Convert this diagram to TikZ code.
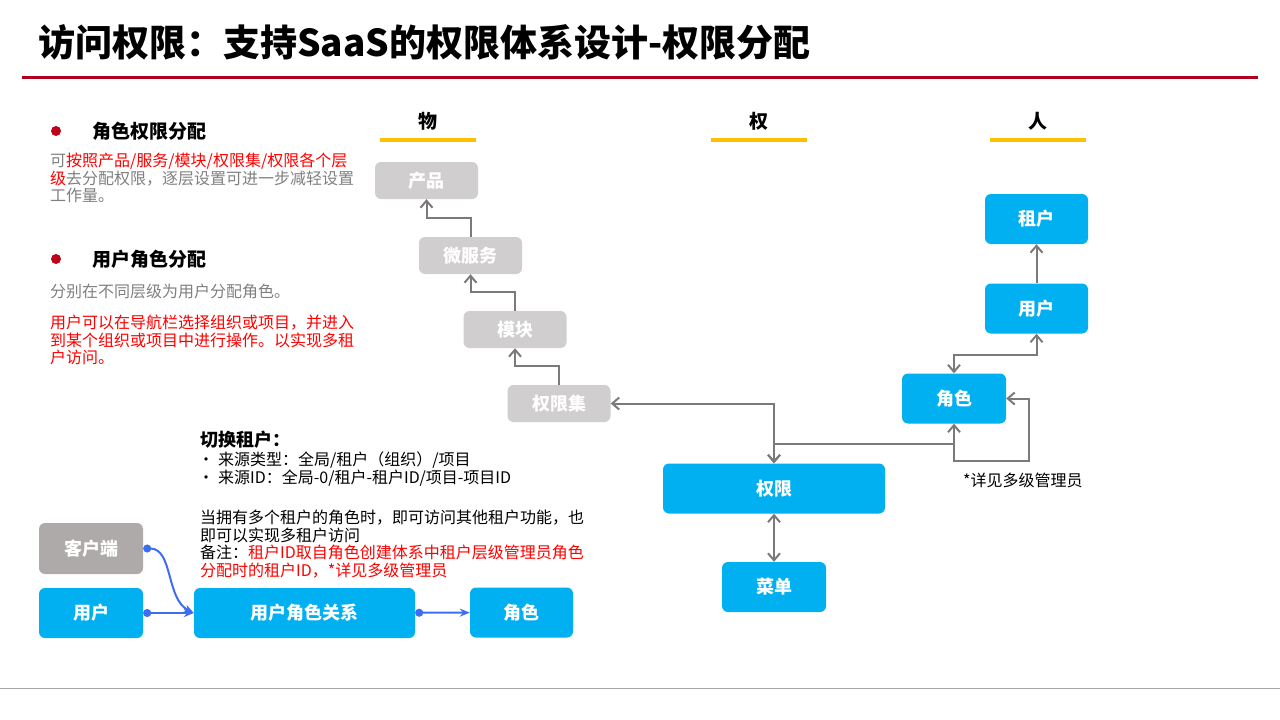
\documentclass[tikz,border=0pt]{standalone}
\usepackage{fontspec}
\setmainfont{Noto Sans CJK SC}
\usepackage{tikz}
\usetikzlibrary{arrows.meta}

\definecolor{skyblue}{HTML}{00B0F0}
\definecolor{boxgray}{HTML}{D0CECE}
\definecolor{clientgray}{HTML}{AEAAAA}
\definecolor{linkgray}{HTML}{7A7A7A}
\definecolor{flowblue}{HTML}{3D6DF2}
\definecolor{txtred}{HTML}{FF0000}
\definecolor{txtgray}{HTML}{7F7F7F}
\definecolor{titlered}{HTML}{B00020}
\definecolor{bulletred}{HTML}{C00018}
\definecolor{baryellow}{HTML}{FFC000}

\begin{document}
\begin{tikzpicture}[x=1pt, y=-1pt, >={Straight Barb[length=7pt, width=12pt]},
    block/.style={rectangle, rounded corners=6pt, inner sep=0pt, text=white, font=\fontsize{18}{18}\selectfont\bfseries},
    bluebox/.style={block, fill=skyblue, minimum height=50pt},
    graybox/.style={block, fill=boxgray, minimum height=37pt, minimum width=103pt},
    link/.style={draw=linkgray, line width=2pt},
    flow/.style={draw=flowblue, line width=2pt, {Circle[length=8pt]}-{Stealth[length=10pt, width=8pt]}},
    head/.style={inner sep=0pt, font=\fontsize{19}{19}\selectfont\bfseries},
    body/.style={align=left, inner sep=0pt, font=\fontsize{16}{17.5}\selectfont}]
    \useasboundingbox (0,0) rectangle (1280,720);

    % title
    \node[anchor=west, inner sep=0pt, font=\fontsize{37}{37}\selectfont\bfseries] (title) at (38,42) {访问权限：支持SaaS的权限体系设计-权限分配};
    \draw[titlered, line width=3pt] (22,77) -- (1258,77);
    \draw[black!35, line width=1pt] (0,688) -- (1280,688);

    % left notes
    \fill[bulletred] (56,131) circle (5pt);
    \node[head, anchor=west] (h1) at (92,131) {角色权限分配};
    \node[body, anchor=north west, text=txtgray] (t1) at (50,153) {可{\color{txtred}按照产品/服务/模块/权限集/权限各个层}\\{\color{txtred}级}去分配权限，逐层设置可进一步减轻设置\\工作量。};
    \fill[bulletred] (56,259) circle (5pt);
    \node[head, anchor=west] (h2) at (92,259) {用户角色分配};
    \node[body, anchor=north west, text=txtgray] (t2) at (50,284) {分别在不同层级为用户分配角色。};
    \node[body, anchor=north west, text=txtred] (t3) at (50,315) {用户可以在导航栏选择组织或项目，并进入\\到某个组织或项目中进行操作。以实现多租\\户访问。};

    % tenant switching
    \node[head, anchor=west, font=\fontsize{18}{18}\selectfont\bfseries] (h3) at (200,440) {切换租户：};
    \node[body, anchor=north west] (t4) at (198,452) {•\hspace{4pt}来源类型：全局/租户（组织）/项目\\•\hspace{4pt}来源ID：全局-0/租户-租户ID/项目-项目ID};
    \node[body, anchor=north west] (t5) at (200,510) {当拥有多个租户的角色时，即可访问其他租户功能，也\\即可以实现多租户访问\\备注：{\color{txtred}租户ID取自角色创建体系中租户层级管理员角色}\\{\color{txtred}分配时的租户ID，*详见多级管理员}};

    % column heads
    \foreach \name/\txt/\cx in {hwu/物/428, hquan/权/758.5, hren/人/1038} {
        \node[head] (\name) at (\cx,121) {\txt};
        \draw[baryellow, line width=4pt] (\cx-48,140) -- (\cx+48,140);
    }

    % objects
    \node[graybox] (prod) at (426.5,180.5) {产品};
    \node[graybox] (svc) at (470.5,255.5) {微服务};
    \node[graybox] (mod) at (515,329.5) {模块};
    \node[graybox] (pset) at (559,403.5) {权限集};

    % permissions
    \node[bluebox, minimum width=222pt] (perm) at (774,488.5) {权限};
    \node[bluebox, minimum width=104pt] (menu) at (774,587) {菜单};

    % people
    \node[bluebox, minimum width=103pt] (tenant) at (1036.5,219) {租户};
    \node[bluebox, minimum width=103pt] (ruser) at (1036.5,308.5) {用户};
    \node[bluebox, minimum width=104pt] (role) at (954,398.5) {角色};
    \node[anchor=west, inner sep=0pt, font=\fontsize{16}{16}\selectfont] (note) at (963,480) {*详见多级管理员};

    \coordinate (jn) at (774,444);
    \coordinate (loop) at (1029,461);

    \draw[link,->] (svc.north) -- ++(0,-19) -| (prod.south);
    \draw[link,->] (mod.north) -- ++(0,-19) -| (svc.south);
    \draw[link,->] (pset.north) -- ++(0,-19) -| (mod.south);
    \draw[link,<->] (pset.east) -| (perm.north);
    \draw[link,<->] (role.south) |- (jn) -- (perm.north);
    \draw[link,->] (role.south |- jn) |- (loop) |- (role.east);
    \draw[link,<->] (perm) -- (menu);
    \draw[link,->] (ruser) -- (tenant);
    \draw[link,<->] (ruser.south) -- ++(0,21) -| (role.north);

    % user role mapping
    \node[block, fill=clientgray, minimum width=104pt, minimum height=51pt] (client) at (91,548.5) {客户端};
    \node[bluebox, minimum width=104pt] (luser) at (91,613) {用户};
    \node[bluebox, minimum width=221pt] (urrel) at (304.5,613) {用户角色关系};
    \node[bluebox, minimum width=103pt] (lrole) at (521.5,612.5) {角色};

    \draw[flow] (client.east) .. controls +(30,0) and +(-28,-14) .. (urrel.west);
    \draw[flow] (luser) -- (urrel);
    \draw[flow] (urrel) -- (lrole);
\end{tikzpicture}
\end{document}
